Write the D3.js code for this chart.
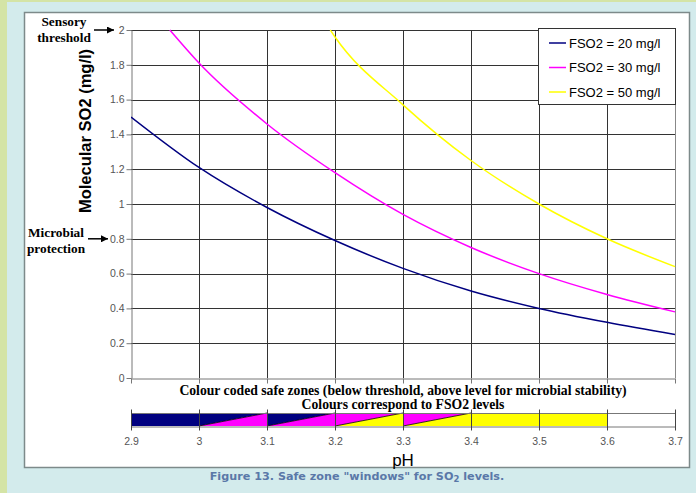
<!DOCTYPE html>
<html>
<head>
<meta charset="utf-8">
<script src="https://cdn.jsdelivr.net/npm/d3@7"></script>
<style>
  body { margin: 0; background: #d3ebec; }
  svg { display: block; }
</style>
</head>
<body>
<svg id="graphic" width="696" height="493"></svg>
<script>
// pH tick values
var phTicks = [2.9, 3.0, 3.1, 3.2, 3.3, 3.4, 3.5, 3.6, 3.7];
var so2Ticks = [0, 0.2, 0.4, 0.6, 0.8, 1, 1.2, 1.4, 1.6, 1.8, 2];

// series (molecular SO2, mg/l)
var ph20 = [2.9, 3.0, 3.1, 3.2, 3.3, 3.4, 3.5, 3.6, 3.7];
var so20 = [1.50, 1.21, 0.98, 0.79, 0.63, 0.50, 0.40, 0.32, 0.25];
var ph30 = [2.957, 3.0, 3.1, 3.2, 3.3, 3.4, 3.5, 3.6, 3.7];
var so30 = [2.0, 1.81, 1.46, 1.18, 0.94, 0.75, 0.60, 0.48, 0.38];
var ph50 = [3.193, 3.2, 3.3, 3.4, 3.5, 3.6, 3.7];
var so50 = [2.0, 1.96, 1.57, 1.25, 1.00, 0.80, 0.64];

var seriesNames = ["FSO2 = 20 mg/l", "FSO2 = 30 mg/l", "FSO2 = 50 mg/l"];
var seriesColors = ["#000080", "#ff00ff", "#ffff00"];

// safe zone band
var bandSolid = [
  { from: 2.9, to: 3.0, color: "#000080" },
  { from: 3.4, to: 3.6, color: "#ffff00" }
];
var bandSplit = [
  { from: 3.0, to: 3.1, upper: "#000080", lower: "#ff00ff" },
  { from: 3.1, to: 3.2, upper: "#000080", lower: "#ff00ff" },
  { from: 3.2, to: 3.3, upper: "#ff00ff", lower: "#ffff00" },
  { from: 3.3, to: 3.4, upper: "#ff00ff", lower: "#ffff00" }
];

var svg = d3.select("#graphic");

// page background strips
svg.append("rect").attr("x", 0).attr("y", 0).attr("width", 696).attr("height", 493).attr("fill", "#d3ebec");
svg.append("rect").attr("x", 0).attr("y", 0).attr("width", 7).attr("height", 493).attr("fill", "#d4e4a6");
svg.append("rect").attr("x", 0).attr("y", 0).attr("width", 696).attr("height", 2).attr("fill", "#d4e4a6");

// white chart frame
svg.append("rect")
  .attr("x", 24.5).attr("y", 12.5).attr("width", 665).attr("height", 455)
  .attr("fill", "#fff").attr("stroke", "#7d8a8a").attr("stroke-width", 1.5);

var x = d3.scaleLinear().domain([2.9, 3.7]).range([131, 675]);
var y = d3.scaleLinear().domain([0, 2]).range([378, 30]);

var sans = "Arial, Liberation Sans, sans-serif";
var serif = "Times New Roman, Liberation Serif, serif";

// grid
var grid = svg.append("g");
grid.selectAll("line.h")
  .data(so2Ticks.filter(function (d) { return d > 0; }))
  .enter().append("line")
  .attr("x1", x(2.9)).attr("x2", x(3.7))
  .attr("y1", function (d) { return Math.round(y(d)) + 0.5; })
  .attr("y2", function (d) { return Math.round(y(d)) + 0.5; })
  .attr("stroke", "#333");
grid.selectAll("line.v")
  .data(phTicks.slice(1))
  .enter().append("line")
  .attr("y1", y(0)).attr("y2", y(2))
  .attr("x1", function (d) { return Math.round(x(d)) + 0.5; })
  .attr("x2", function (d) { return Math.round(x(d)) + 0.5; })
  .attr("stroke", function (d) { return d === 3.7 ? "#888" : "#333"; });

// axes
var yAxis = svg.append("g")
  .attr("transform", "translate(" + (Math.round(x(2.9)) + 0.5) + ",0)")
  .call(d3.axisLeft(y).tickValues(so2Ticks).tickSize(5).tickSizeOuter(0)
    .tickFormat(function (d) { return d3.format("~g")(d); }));
var xAxis = svg.append("g")
  .attr("transform", "translate(0," + (Math.round(y(0)) + 0.5) + ")")
  .call(d3.axisBottom(x).tickValues(phTicks).tickSize(5).tickSizeOuter(0).tickFormat(""));
[yAxis, xAxis].forEach(function (a) {
  a.select(".domain").attr("stroke", "#777");
  a.selectAll(".tick line").attr("stroke", "#777");
  a.selectAll("text").attr("fill", "#555").attr("font-family", sans).attr("font-size", 10.5);
});
yAxis.selectAll("text").attr("x", -7);

// lines
svg.append("clipPath").attr("id", "plotclip")
  .append("rect").attr("x", x(2.9)).attr("y", y(2) - 1).attr("width", x(3.7) - x(2.9) + 1).attr("height", y(0) - y(2) + 1);

var series = [
  { ph: ph20, so: so20 },
  { ph: ph30, so: so30 },
  { ph: ph50, so: so50 }
];
var line = d3.line()
  .x(function (d) { return x(d[0]); })
  .y(function (d) { return y(d[1]); })
  .curve(d3.curveMonotoneX);

svg.append("g").attr("clip-path", "url(#plotclip)")
  .selectAll("path")
  .data(series)
  .enter().append("path")
  .attr("d", function (s) { return line(d3.zip(s.ph, s.so)); })
  .attr("fill", "none")
  .attr("stroke", function (s, i) { return seriesColors[i]; })
  .attr("stroke-width", 1.5);

// legend
var legend = svg.append("g");
legend.append("rect")
  .attr("x", 538.5).attr("y", 28.5).attr("width", 137).attr("height", 76)
  .attr("fill", "#fff").attr("stroke", "#333");
var items = legend.selectAll("g.item")
  .data(seriesNames)
  .enter().append("g")
  .attr("transform", function (d, i) { return "translate(0," + (43 + i * 24.5) + ")"; });
items.append("line")
  .attr("x1", 549).attr("x2", 566).attr("y1", 0).attr("y2", 0)
  .attr("stroke", function (d, i) { return seriesColors[i]; })
  .attr("stroke-width", 1.5);
items.append("text")
  .attr("x", 569).attr("y", 4.5)
  .attr("font-family", sans).attr("font-size", 13)
  .attr("fill", "#000")
  .text(function (d) { return d; });

// axis titles
svg.append("text")
  .attr("transform", "translate(91,131) rotate(-90)")
  .attr("text-anchor", "middle")
  .attr("font-family", sans).attr("font-size", 16.5).attr("font-weight", "bold")
  .text("Molecular SO2 (mg/l)");
svg.append("text")
  .attr("x", 403).attr("y", 466)
  .attr("text-anchor", "middle")
  .attr("font-family", sans).attr("font-size", 17)
  .text("pH");

// threshold annotations
function note(lines, cx, cy) {
  var t = svg.append("text")
    .attr("text-anchor", "middle")
    .attr("font-family", serif).attr("font-size", 13.3).attr("font-weight", "bold");
  lines.forEach(function (l, i) {
    t.append("tspan").attr("x", cx).attr("y", cy + i * 16).text(l);
  });
}
note(["Sensory", "threshold"], 64, 26);
note(["Microbial", "protection"], 56, 237);

svg.append("defs").append("marker")
  .attr("id", "arrow").attr("viewBox", "0 0 10 10").attr("refX", 10).attr("refY", 5)
  .attr("markerWidth", 7).attr("markerHeight", 7).attr("markerUnits", "userSpaceOnUse")
  .attr("orient", "auto")
  .append("path").attr("d", "M0,0L10,5L0,10z").attr("fill", "#000");
[[94, 114, y(2)], [88, 108, y(0.8)]].forEach(function (a) {
  svg.append("line")
    .attr("x1", a[0]).attr("x2", a[1]).attr("y1", a[2]).attr("y2", a[2])
    .attr("stroke", "#000").attr("stroke-width", 1.5)
    .attr("marker-end", "url(#arrow)");
});

// safe zone band
var bandTop = 413, bandBot = 426;
svg.append("text")
  .attr("x", 403).attr("y", 394.5)
  .attr("text-anchor", "middle")
  .attr("font-family", serif).attr("font-size", 13.7).attr("font-weight", "bold")
  .text("Colour coded safe zones (below threshold, above level for microbial stability)");
svg.append("text")
  .attr("x", 403).attr("y", 408.5)
  .attr("text-anchor", "middle")
  .attr("font-family", serif).attr("font-size", 13.7).attr("font-weight", "bold")
  .text("Colours correspond to FSO2 levels");

var band = svg.append("g");
band.selectAll("rect")
  .data(bandSolid)
  .enter().append("rect")
  .attr("x", function (d) { return x(d.from); })
  .attr("width", function (d) { return x(d.to) - x(d.from); })
  .attr("y", bandTop).attr("height", bandBot - bandTop)
  .attr("fill", function (d) { return d.color; });
var splits = band.selectAll("g.split").data(bandSplit).enter().append("g");
splits.append("path")
  .attr("d", function (d) {
    return "M" + x(d.from) + "," + bandTop + "L" + x(d.to) + "," + bandTop + "L" + x(d.from) + "," + bandBot + "Z";
  })
  .attr("fill", function (d) { return d.upper; });
splits.append("path")
  .attr("d", function (d) {
    return "M" + x(d.from) + "," + bandBot + "L" + x(d.to) + "," + bandBot + "L" + x(d.to) + "," + bandTop + "Z";
  })
  .attr("fill", function (d) { return d.lower; });
splits.append("line")
  .attr("x1", function (d) { return x(d.from); }).attr("y1", bandBot)
  .attr("x2", function (d) { return x(d.to); }).attr("y2", bandTop)
  .attr("stroke", "#000").attr("stroke-width", 0.8);

band.append("line")
  .attr("x1", x(2.9)).attr("x2", x(3.7)).attr("y1", bandTop + 0.5).attr("y2", bandTop + 0.5)
  .attr("stroke", "#777");
var bandAxis = svg.append("g")
  .attr("transform", "translate(0," + (bandBot + 0.5) + ")")
  .call(d3.axisBottom(x).tickValues(phTicks).tickSize(4).tickSizeOuter(0)
    .tickFormat(function (d) { return d3.format("~g")(d); }));
bandAxis.select(".domain").attr("stroke", "#777");
bandAxis.selectAll(".tick line").attr("stroke", "#444").attr("y1", -bandBot + bandTop - 4);
bandAxis.selectAll("text").attr("fill", "#555").attr("y", 11)
  .attr("font-family", sans).attr("font-size", 10.5);

// caption
var cap = svg.append("text")
  .attr("x", 357).attr("y", 480)
  .attr("text-anchor", "middle")
  .attr("font-family", "Verdana, DejaVu Sans, sans-serif").attr("font-size", 11.2).attr("font-weight", "bold")
  .attr("fill", "#5a78a8");
cap.append("tspan").text("Figure 13. Safe zone \"windows\" for SO");
cap.append("tspan").attr("font-size", 8.5).attr("dy", 2).text("2");
cap.append("tspan").attr("dy", -2).text(" levels.");
</script>
</body>
</html>
